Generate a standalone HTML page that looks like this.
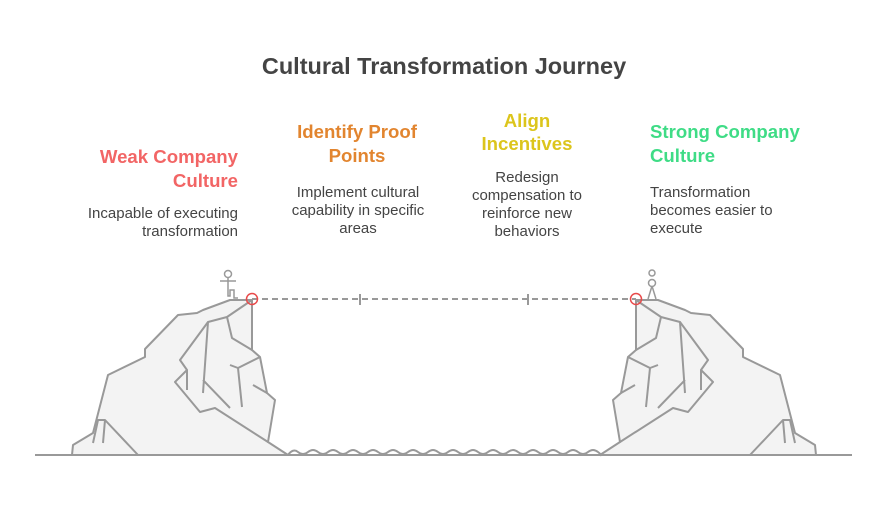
<!DOCTYPE html>
<html><head><meta charset="utf-8"><style>
body{margin:0;background:#fff;width:888px;height:528px;overflow:hidden}
svg{display:block}
text{font-family:"Liberation Sans",sans-serif}
.h{font-weight:bold;font-size:18.6px}
.d{font-size:15px;fill:#444}
</style></head><body>
<svg width="888" height="528" viewBox="0 0 888 528">
<text x="444" y="74" text-anchor="middle" font-weight="bold" font-size="23.5" fill="#444">Cultural Transformation Journey</text>

<g class="h" fill="#f26565" text-anchor="end">
<text x="238" y="163">Weak Company</text><text x="238" y="187">Culture</text></g>
<g class="d" text-anchor="end"><text x="238" y="218">Incapable of executing</text><text x="238" y="236">transformation</text></g>

<g class="h" fill="#e2852f" text-anchor="middle">
<text x="357" y="138">Identify Proof</text><text x="357" y="162">Points</text></g>
<g class="d" text-anchor="middle"><text x="358" y="197">Implement cultural</text><text x="358" y="215">capability in specific</text><text x="358" y="233">areas</text></g>

<g class="h" fill="#dcc51c" text-anchor="middle">
<text x="527" y="127">Align</text><text x="527" y="150">Incentives</text></g>
<g class="d" text-anchor="middle"><text x="527" y="182">Redesign</text><text x="527" y="200">compensation to</text><text x="527" y="218">reinforce new</text><text x="527" y="236">behaviors</text></g>

<g class="h" fill="#3fdc86"><text x="650" y="138">Strong Company</text><text x="650" y="162">Culture</text></g>
<g class="d"><text x="650" y="197">Transformation</text><text x="650" y="215">becomes easier to</text><text x="650" y="233">execute</text></g>

<g stroke="#999" stroke-width="2" fill="none">
<line x1="252" y1="299" x2="636" y2="299" stroke-dasharray="6,4"/>
<line x1="360" y1="294" x2="360" y2="305"/><line x1="528" y1="294" x2="528" y2="305"/>
<line x1="35" y1="455" x2="852" y2="455"/>
<path d="M288 455 q5 -7 10 -3 t10 0 t10 0 t10 0 t10 0 t10 0 t10 0 t10 0 t10 0 t10 0 t10 0 t10 0 t10 0 t10 0 t10 0 t10 0 t10 0 t10 0 t10 0 t10 0 t10 0 t10 0 t10 0 t10 0 t10 0 t10 0 t10 0 t10 0 t10 0 t10 0 t10 0 t2 3"/>
</g>

<g id="cliff" stroke="#999" stroke-width="2" stroke-linejoin="round" fill="none">
<path fill="#f3f3f3" d="M72 455 L73 445 L93 433 L108 375 L145 357 L145 349 L178 315 L197 313 L203 310 L230 300 L252 300 L252 350 L260 357 L267 393 L275 400 L268 442 L288 455 Z"/>
<path d="M252 300 L227 317 L208 322 L180 360 L187 370 L175 382 L200 412 L215 408 L268 442"/>
<path d="M187 370 L187 390 M208 322 L203 393 M203 380 L230 408 M227 317 L232 338 L252 350 M260 357 L238 368 L230 365 M238 368 L242 407 M253 385 L267 393"/>
<path d="M93 443 L98 420 L105 420 L138 455 M105 420 L103 443"/>
</g>
<use href="#cliff" transform="translate(888,0) scale(-1,1)"/>

<g stroke="#999" stroke-width="1.5" fill="none">
<circle cx="228" cy="274" r="3.5"/>
<path d="M220 281 L236 281 M228 278 L228 296 L230 296 L230 290 L234 290 L234 298 L238 298"/>
<circle cx="652" cy="273" r="3"/>
<circle cx="652" cy="283" r="3.5"/>
<path d="M652 286 L648 299 M652 286 L656 299"/>
</g>
<circle cx="252" cy="299" r="5.5" fill="none" stroke="#e84a4a" stroke-width="1.5"/>
<circle cx="636" cy="299" r="5.5" fill="none" stroke="#e84a4a" stroke-width="1.5"/>
</svg>
</body></html>
